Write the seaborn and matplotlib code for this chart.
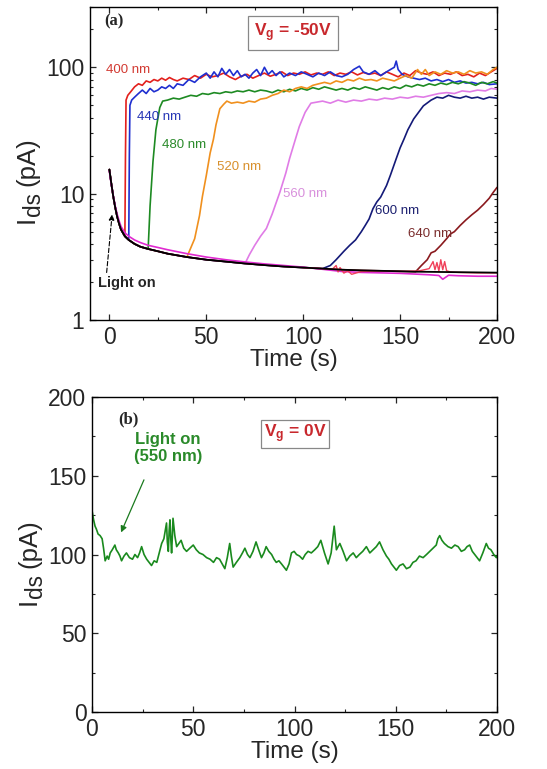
import matplotlib
matplotlib.use("Agg")
import matplotlib.pyplot as plt
import numpy as np
import pandas as pd
import seaborn as sns
from matplotlib.ticker import MultipleLocator, LogLocator, NullFormatter, FixedLocator, FixedFormatter

# ---------------- data: panel (a) ----------------
dark_t = [0, 1, 2, 3, 4, 5, 6, 8, 10, 13, 16, 20, 25, 30, 40, 50, 60, 70, 80, 90,
          100, 110, 120, 130, 140, 150, 158, 160, 170, 180, 190, 200]
dark_I = [15.5, 12.0, 9.5, 7.8, 6.6, 5.8, 5.2, 4.6, 4.3, 4.0, 3.8, 3.65, 3.5, 3.35, 3.15, 3.0,
          2.9, 2.8, 2.72, 2.65, 2.6, 2.55, 2.5, 2.47, 2.45, 2.43, 2.41, 2.41, 2.4, 2.39, 2.38, 2.37]

onsets = {"400 nm": 8.1, "440 nm": 10.1, "480 nm": 20.5, "520 nm": 42, "560 nm": 70.5,
          "600 nm": 110.5, "640 nm": 158.5}

t400 = [8.3, 8.6, 9.5, 11, 13, 15, 17, 19, 21, 23, 25, 27, 29, 31, 33, 35, 38, 41, 44, 47, 50, 53,
        56, 59, 62, 65, 68, 71, 74, 77, 80, 83, 86, 89, 92, 95, 98, 101, 104, 107, 110, 113, 116,
        119, 122, 125, 128, 131, 134, 137, 140, 143, 146, 149, 152, 155, 158, 161, 164, 167, 170,
        173, 176, 179, 182, 185, 188, 191, 194, 197, 200]
I400 = [20, 55, 60, 64, 70, 74, 72, 78, 76, 80, 78, 82, 79, 83, 80, 78, 82, 80, 86, 82, 88, 84,
        86, 90, 84, 80, 85, 88, 82, 86, 90, 85, 88, 92, 86, 90, 88, 92, 87, 90, 88, 92, 86,
        90, 88, 92, 87, 91, 88, 90, 86, 92, 88, 84, 90, 86, 94, 90, 88, 92, 86,
        90, 88, 92, 86, 88, 84, 90, 86, 92, 98]

t440 = [10.3, 10.6, 11.5, 13, 15, 17, 19, 21, 23, 25, 27, 29, 31, 33, 35, 38, 41, 44, 47, 50, 52,
        54, 56, 58, 60, 62, 64, 66, 68, 70, 72, 74, 76, 78, 80, 82, 84, 86, 88, 90, 93, 96, 99,
        102, 105, 108, 111, 114, 117, 120, 123, 126, 129, 131, 134, 137, 140, 143, 145, 147, 148,
        149, 151, 154, 157, 160, 163, 166, 169, 172, 175, 178, 181, 184, 187, 190, 193, 196, 200]
I440 = [20, 50, 55, 58, 62, 66, 62, 68, 64, 66, 70, 68, 72, 68, 74, 72, 80, 76, 84, 90, 82,
        92, 84, 98, 88, 96, 86, 94, 84, 88, 82, 90, 96, 86, 100, 88, 94, 86, 92, 84, 90, 86, 92,
        88, 84, 90, 86, 92, 86, 84, 88, 96, 102, 92, 88, 94, 86, 92, 96, 100, 112,
        96, 88, 84, 82, 80, 82, 78, 80, 77, 80, 76, 78, 75, 76, 74, 76, 73, 74]

t480 = [21, 22.5, 24, 26, 27.5, 30, 33, 36, 39, 42, 45, 48, 51, 54, 57, 60, 63, 66, 69, 72, 75,
        78, 81, 84, 87, 90, 93, 96, 99, 102, 105, 108, 111, 114, 117, 120, 123, 126, 129, 132,
        135, 138, 141, 144, 147, 150, 153, 156, 159, 162, 165, 168, 171, 174, 177, 180, 183,
        186, 189, 192, 195, 198, 200]
I480 = [8, 18, 32, 48, 54, 55, 57, 56, 58, 60, 59, 62, 61, 63, 62, 64, 63, 65, 64, 66, 64,
        66, 65, 63, 66, 64, 67, 65, 68, 66, 69, 67, 70, 68, 66, 68, 66, 69, 67, 70,
        68, 66, 69, 67, 70, 68, 72, 70, 73, 71, 74, 72, 75, 73, 76, 74, 77,
        75, 72, 76, 74, 77, 75]

t520 = [44, 46.5, 48, 50, 52, 53.7, 55, 57, 59, 60.6, 63, 66, 69, 72, 75, 78, 81, 84, 87, 90, 93,
        96, 99, 102, 105, 108, 111, 114, 117, 120, 123, 126, 129, 132, 135, 138, 141, 144, 147,
        150, 153, 156, 159, 161, 163, 165, 168, 171, 174, 177, 180, 183, 186, 189, 192, 195,
        198, 200]
I520 = [4.4, 6.7, 9.5, 13.9, 21, 27, 35, 47, 51, 54, 52, 53, 52, 54, 53, 56, 57, 60, 62, 66, 64,
        68, 70, 68, 72, 74, 76, 74, 78, 76, 80, 78, 82, 79, 80, 78, 82, 80, 78,
        82, 86, 82, 96, 88, 96, 86, 92, 88, 94, 90, 92, 88, 94, 90, 92, 88,
        96, 100]

t560 = [72.3, 75, 78, 81, 84, 88, 91, 93, 96, 98, 101, 104, 107, 110, 114, 118, 122, 126, 130,
        134, 138, 142, 146, 150, 154, 158, 162, 166, 170, 174, 178, 182, 186, 190, 194, 197, 200]
I560 = [3.3, 3.9, 4.6, 5.3, 6.9, 10.3, 14.5, 19, 27, 34, 44, 52, 53, 54, 52, 55, 53, 55, 54,
        56, 55, 57, 56, 58, 57, 59, 58, 60, 62, 63, 62, 65, 64, 66, 65, 68, 67]

t600 = [114, 117, 121, 124, 127, 130, 132, 134, 136, 138, 140, 143, 145, 148, 150, 152, 154, 157,
        160, 162, 166, 169, 172, 175, 178, 181, 184, 187, 190, 193, 196, 200]
I600 = [2.7, 3.0, 3.5, 3.9, 4.3, 5.0, 5.6, 6.3, 7.6, 8.6, 9.4, 11.6, 14, 18.9, 23, 27, 32, 39,
        45, 49.5, 55, 58, 57, 60, 58, 57, 59, 57, 58, 56, 58, 57]

t640 = [161, 164, 166, 168, 171, 174, 176, 178, 181, 184, 187, 190, 193, 196, 198, 200]
I640 = [2.7, 3.0, 3.4, 3.5, 3.9, 4.4, 4.8, 5.0, 5.6, 6.2, 6.8, 7.4, 8.2, 9.2, 10.2, 11.2]

# additional dark traces near the baseline
mag_t = [0, 1, 2, 3, 4, 5, 6, 8, 10, 13, 16, 20, 25, 30, 40, 50, 60, 70, 80, 90, 100, 110, 120,
         130, 140, 150, 160, 165, 170, 172, 175, 180, 190, 200]
mag_I = [15.0, 11.8, 9.6, 8.0, 6.9, 6.1, 5.5, 4.9, 4.6, 4.3, 4.1, 3.9, 3.75, 3.6, 3.35, 3.15,
         3.0, 2.88, 2.78, 2.7, 2.62, 2.52, 2.42, 2.38, 2.36, 2.34, 2.3, 2.28, 2.25, 2.1, 2.26,
         2.24, 2.22, 2.22]
red_t = [100, 110, 115, 117, 118, 119, 121, 123, 125, 130, 140, 150, 160, 165, 167, 168, 169,
         170, 171, 172, 173, 174, 176, 180, 190, 200]
red_I = [2.6, 2.55, 2.52, 2.7, 2.4, 2.6, 2.35, 2.45, 2.3, 2.42, 2.44, 2.42, 2.45, 2.55, 2.9,
         2.5, 2.85, 2.45, 3.0, 2.5, 2.9, 2.45, 2.4, 2.38, 2.36, 2.36]

# ---------------- data: panel (b) ----------------
tb = [0, 0.8, 1.5, 2.2, 3, 4, 5, 5.7, 6.5, 7.5, 8.2, 9, 10, 11.3, 12, 13, 13.8, 14.6, 15.8, 17,
      18.5, 20, 21.2, 22.5, 23.5, 24.5, 25.7, 27, 28.2, 29.4, 30.7, 32, 33.2, 34.4, 35.5, 36.8,
      37.2, 37.7, 38.1, 38.5, 38.9, 39.3, 39.7, 40, 40.9, 41.8, 42.9, 44, 45.3, 46.7, 48.3, 50,
      51.5, 53, 54.8, 56.6, 58.3, 60, 61.5, 63, 64.3, 65.6, 66.8, 68, 68.8, 69.7, 71.3, 73, 74.3,
      75.5, 76.8, 78, 79.5, 81, 82.3, 83.7, 84.9, 86, 87.3, 88.7, 89.9, 91, 92.3, 93.6, 94.8, 96,
      97.3, 98.5, 99.8, 101, 102.5, 104, 105.3, 106.7, 108.3, 110, 111.5, 113, 114.8, 116.6,
      118.1, 119.6, 120.2, 120.7, 121.5, 122.4, 124, 125.7, 127.3, 129, 130.5, 132, 133.7, 135.5,
      137.2, 138.8, 140.4, 142, 143.7, 145.4, 146.6, 147.9, 149.1, 150.3, 151.9, 153.6, 155.3,
      157, 158.5, 160, 161.7, 163.5, 165.2, 166.8, 168.4, 170, 170.8, 171.7, 172.8, 174, 175.8,
      177.5, 179.2, 180.8, 182.4, 184, 185.2, 186.5, 187.8, 189, 190.2, 191.4, 193, 194.7,
      195.8, 197, 198.4, 199.7, 200]
Ib = [128, 122, 118, 116, 113, 112, 110, 104, 96, 99, 97, 101, 103, 106, 103, 101, 99, 96, 99, 101,
      98, 97, 100, 98, 101, 105, 100, 97, 95, 93, 96, 95, 101, 107, 110, 120,
      108, 102, 115, 122, 110, 101, 112, 123, 112, 105, 107, 109, 104, 102, 104, 106,
      103, 101, 100, 98, 97, 95, 98, 97, 94, 91, 98, 107, 99, 92, 95, 98, 101,
      104, 100, 98, 102, 108, 103, 98, 101, 105, 102, 100, 97, 95, 96, 94, 92, 90,
      94, 101, 102, 100, 99, 97, 100, 102, 101, 103, 105, 109, 101, 94,
      101, 118, 110, 103, 105, 107, 102, 96, 99, 101, 98, 100, 102, 105,
      101, 103, 105, 108, 103, 99, 97, 94, 92, 90, 93, 94, 91,
      92, 95, 96, 99, 98, 100, 102, 104, 106, 110, 112, 109, 107, 105,
      104, 106, 105, 102, 103, 105, 106, 102, 100, 98, 96, 101, 107,
      104, 103, 100, 98, 99]

labels_a = ["400 nm", "440 nm", "480 nm", "520 nm", "560 nm", "600 nm", "640 nm"]
line_colors = ["#e3201c", "#1f2fd0", "#1d8a22", "#f0901e", "#e07ce6", "#141a78", "#8a1a1e"]
text_colors = ["#d23a32", "#2535b5", "#2a8a2a", "#d8902c", "#d890dc", "#1c2070", "#7a2c2c"]
label_t = [-1.5, 14.5, 27.4, 55.3, 89.4, 137, 154]
label_I = [96, 40.4, 24.3, 16.3, 10.0, 7.3, 4.8]

# ---------------- styling ----------------
sns.set_style("ticks")
plt.rcParams["font.family"] = ["Liberation Sans", "DejaVu Sans"]
plt.rcParams["mathtext.fontset"] = "custom"
plt.rcParams["mathtext.rm"] = "Liberation Sans"
plt.rcParams["mathtext.bf"] = "Liberation Sans:bold"
plt.rcParams["mathtext.it"] = "Liberation Sans:italic"

fig = plt.figure(figsize=(5.47, 7.69), dpi=100)
W, H = 547, 769
ax1 = fig.add_axes([90 / W, 1 - 320 / H, 407 / W, 313 / H])
ax2 = fig.add_axes([92 / W, 1 - 712 / H, 405 / W, 315 / H])

def series(name, tt, ii):
    on = onsets[name]
    t = [x for x in dark_t if x < on] + tt
    I = [y for x, y in zip(dark_t, dark_I) if x < on] + ii
    return pd.DataFrame({"t": t, "I": I})

rise = {"400 nm": (t400, I400), "440 nm": (t440, I440), "480 nm": (t480, I480),
        "520 nm": (t520, I520), "560 nm": (t560, I560), "600 nm": (t600, I600),
        "640 nm": (t640, I640)}

for name, col in zip(labels_a, line_colors):
    df = series(name, *rise[name])
    sns.lineplot(data=df, x="t", y="I", color=col, lw=1.2, estimator=None, sort=False, ax=ax1)

sns.lineplot(x=mag_t, y=mag_I, color="#e02ad0", lw=1.2, estimator=None, sort=False, ax=ax1)
sns.lineplot(x=red_t, y=red_I, color="#f0405a", lw=1.0, estimator=None, sort=False, ax=ax1)
sns.lineplot(x=dark_t, y=dark_I, color="black", lw=1.3, estimator=None, sort=False, ax=ax1)

ax1.set_yscale("log")
ax1.set_xlim(-10, 200)
ax1.set_ylim(1, 300)
ax1.xaxis.set_major_locator(MultipleLocator(50))
ax1.xaxis.set_minor_locator(MultipleLocator(25))
ax1.yaxis.set_major_locator(FixedLocator([1, 10, 100]))
ax1.yaxis.set_major_formatter(FixedFormatter(["1", "10", "100"]))
ax1.yaxis.set_minor_locator(LogLocator(base=10, subs=np.arange(2, 10)))
ax1.yaxis.set_minor_formatter(NullFormatter())

for lab, c, tx, iy in zip(labels_a, text_colors, label_t, label_I):
    ax1.text(tx, iy, lab, color=c, fontsize=9.5, ha="left", va="center")

ax1.text(0.035, 0.955, "(a)", transform=ax1.transAxes, fontsize=12, fontweight="bold",
         family=["Liberation Serif", "DejaVu Serif"], ha="left", va="center")
ax1.text(0.499, 0.917, r"V$_\mathbf{g}$ = -50V", transform=ax1.transAxes, fontsize=12.5,
         fontweight="bold", color="#c8282d", ha="center", va="center",
         bbox=dict(boxstyle="square,pad=0.35", fc="white", ec="#888888", lw=0.9))
ax1.annotate("", xy=(1.55, 7.2), xytext=(-1.55, 2.26),
             arrowprops=dict(arrowstyle="-|>", color="black", lw=0.8, linestyle=(0, (4, 2)),
                             mutation_scale=8))
ax1.text(-5.7, 1.95, "Light on", fontsize=10.5, fontweight="bold", ha="left", va="center")

# panel (b)
dfb = pd.DataFrame({"t": tb, "I": Ib})
sns.lineplot(data=dfb, x="t", y="I", color="#1a8a1e", lw=1.2, estimator=None, sort=False, ax=ax2)
ax2.set_xlim(0, 200)
ax2.set_ylim(0, 200)
ax2.xaxis.set_major_locator(MultipleLocator(50))
ax2.xaxis.set_minor_locator(MultipleLocator(25))
ax2.yaxis.set_major_locator(MultipleLocator(50))
ax2.yaxis.set_minor_locator(MultipleLocator(25))
ax2.text(0.065, 0.93, "(b)", transform=ax2.transAxes, fontsize=12, fontweight="bold",
         family=["Liberation Serif", "DejaVu Serif"], ha="left", va="center")
ax2.text(0.501, 0.883, r"V$_\mathbf{g}$ = 0V", transform=ax2.transAxes, fontsize=12.5,
         fontweight="bold", color="#c8282d", ha="center", va="center",
         bbox=dict(boxstyle="square,pad=0.15", fc="white", ec="#888888", lw=0.9))
ax2.text(37.5, 167.6, "Light on\n(550 nm)", color="#2a8a2a", fontsize=12, fontweight="bold",
         ha="center", va="center", linespacing=1.15)
ax2.annotate("", xy=(13.8, 112.4), xytext=(26.2, 149),
             arrowprops=dict(arrowstyle="-|>", color="#1a7a1e", lw=0.9, mutation_scale=9))

for ax in (ax1, ax2):
    ax.set_xlabel("Time (s)", fontsize=17.5, labelpad=0)
    ax.set_ylabel("")
    ax.tick_params(which="both", direction="in", top=True, right=True, labelsize=16.5, pad=4)
    ax.tick_params(which="major", length=4, width=0.9)
    ax.tick_params(which="minor", length=2.5, width=0.8)
    for s in ax.spines.values():
        s.set_linewidth(1.0)
        s.set_color("black")

# y labels "I_ds (pA)" with a nearly full-size subscript, built from rotated pieces
renderer = fig.canvas.get_renderer()

def ylabel_pieces(x_px, yc_px, size):
    specs = [("I", size, 0.0, 0.0), ("ds", size * 0.88, 6.0, 0.0), ("(pA)", size, 0.0, size * 0.3)]
    texts = []
    for s, fs, dx, gap in specs:
        t = fig.text(0, 0, s, rotation=90, rotation_mode="anchor", ha="left", va="baseline",
                     fontsize=fs)
        texts.append((t, dx, gap))
    lengths = [t.get_window_extent(renderer).height for t, _, _ in texts]
    total = sum(lengths) + sum(g for _, _, g in texts)
    y = yc_px - total / 2
    for (t, dx, gap), L in zip(texts, lengths):
        y += gap
        t.set_position(((x_px + dx) / W, y / H))
        y += L

ylabel_pieces(34, H - 180, 18.5)
ylabel_pieces(36, H - 562, 18.5)

fig.savefig("out.png", dpi=100)
